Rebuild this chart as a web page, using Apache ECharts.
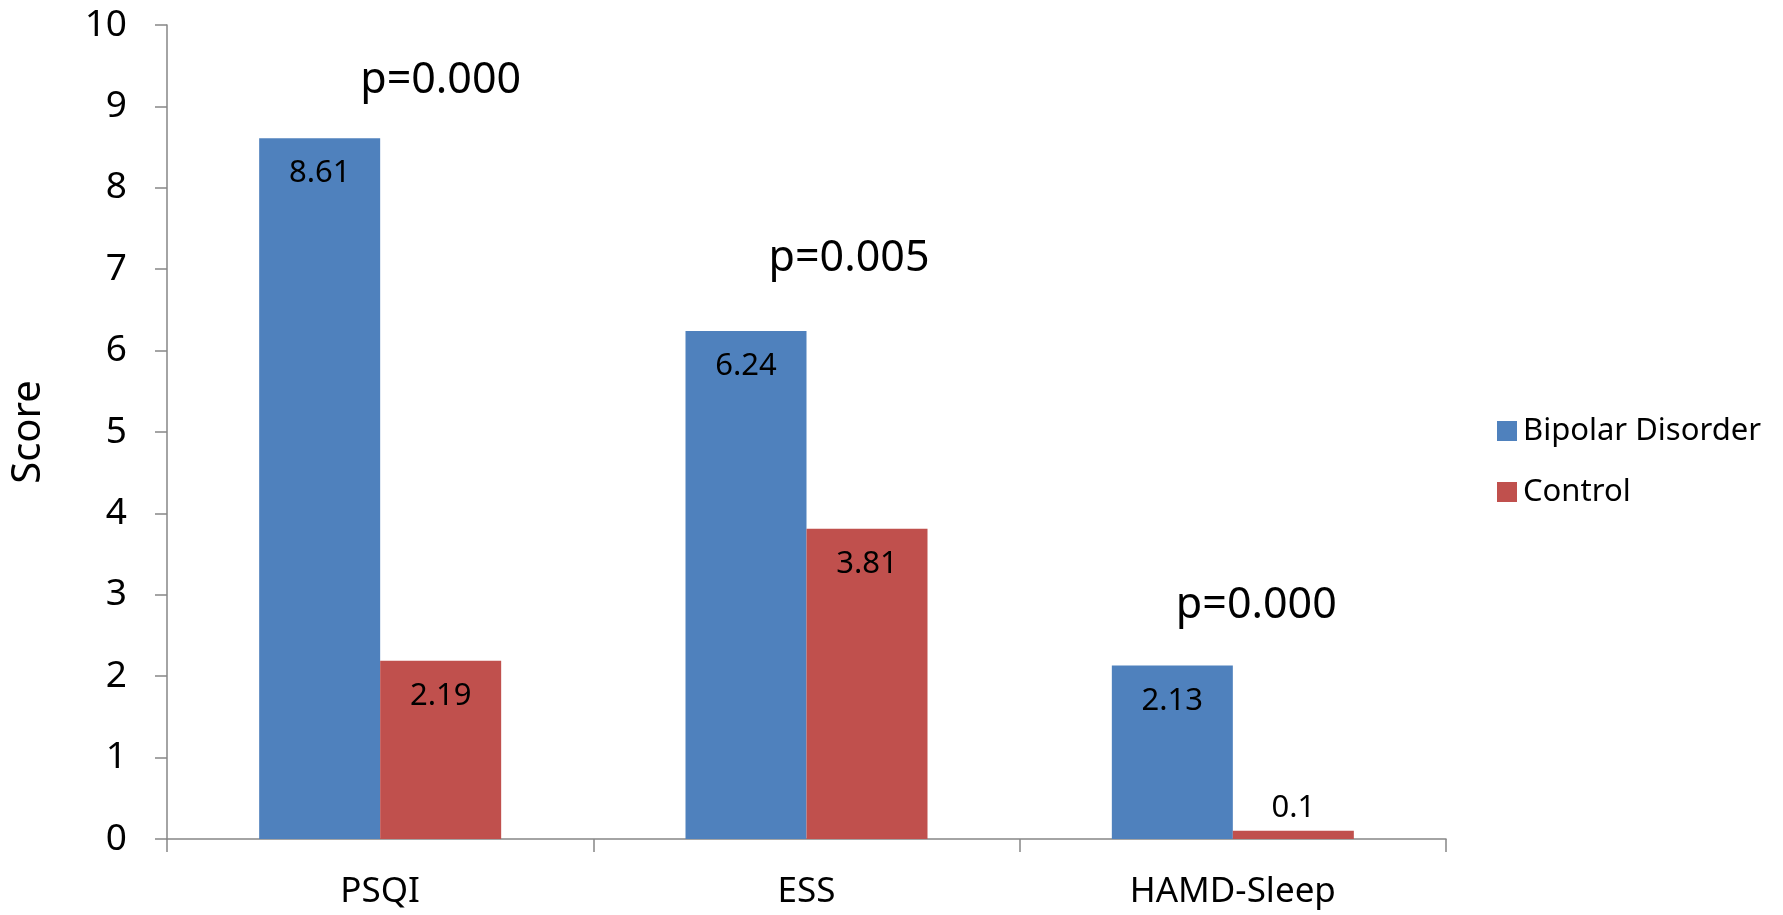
<!DOCTYPE html>
<html>
<head>
<meta charset="utf-8">
<script src="https://cdn.jsdelivr.net/npm/echarts@6/dist/echarts.min.js"></script>
<style>
  html, body { margin: 0; padding: 0; background: #ffffff; }
  #chart { width: 1783px; height: 915px; }
</style>
</head>
<body>
<div id="chart"></div>
<script>
// Sleep scores by scale
const categories = ['PSQI', 'ESS', 'HAMD-Sleep'];
const bipolarValues = [8.61, 6.24, 2.13];
const controlValues = [2.19, 3.81, 0.1];
const pValueLabels = ['p=0.000', 'p=0.005', 'p=0.000'];
const yTicks = [0, 1, 2, 3, 4, 5, 6, 7, 8, 9, 10];

// Placement of the p-value annotations, relative to the top of each Bipolar bar
const pLabelOffsets = [[121, -57], [103, -72], [84, -60]];

const FONT = '"Noto Sans", "Open Sans", sans-serif';
const BLUE = '#4F81BD';
const RED = '#C0504D';
const AXIS = '#868686';

const chart = echarts.init(document.getElementById('chart'));

chart.setOption({
  backgroundColor: '#ffffff',
  animation: false,
  textStyle: { fontFamily: FONT, color: '#000000' },
  grid: { left: 167, right: 337, top: 25, bottom: 76 },
  legend: {
    orient: 'vertical',
    left: 1492,
    top: 408,
    itemWidth: 20,
    itemHeight: 20,
    itemGap: 25,
    icon: 'rect',
    textStyle: { fontFamily: FONT, fontSize: 31, color: '#000000', lineHeight: 36, padding: [0, 0, 0, 1] },
    data: ['Bipolar Disorder', 'Control']
  },
  xAxis: {
    type: 'category',
    data: categories,
    boundaryGap: true,
    axisLine: { show: true, lineStyle: { color: AXIS, width: 1.5 } },
    axisTick: { show: true, alignWithLabel: false, length: 13, lineStyle: { color: AXIS, width: 1.5 } },
    axisLabel: { fontFamily: FONT, fontSize: 35, color: '#000000', margin: 36 },
    splitLine: { show: false }
  },
  yAxis: {
    type: 'value',
    min: yTicks[0],
    max: yTicks[yTicks.length - 1],
    interval: 1,
    name: 'Score',
    nameLocation: 'middle',
    nameGap: 118,
    nameTextStyle: { fontFamily: FONT, fontSize: 40, color: '#000000' },
    axisLine: { show: true, lineStyle: { color: AXIS, width: 1.5 } },
    axisTick: { show: true, length: 12, lineStyle: { color: AXIS, width: 1.5 } },
    axisLabel: { fontFamily: FONT, fontSize: 37, color: '#000000', margin: 40 },
    splitLine: { show: false }
  },
  series: [
    {
      name: 'Bipolar Disorder',
      type: 'bar',
      barWidth: 121,
      barGap: '0%',
      itemStyle: { color: BLUE },
      label: {
        show: true,
        position: 'insideTop',
        distance: 20,
        fontFamily: FONT,
        fontSize: 31,
        color: '#000000'
      },
      data: bipolarValues,
      markPoint: {
        symbol: 'circle',
        symbolSize: 0,
        silent: true,
        label: {
          show: true,
          position: 'inside',
          fontFamily: FONT,
          fontSize: 43,
          color: '#000000'
        },
        data: categories.map((c, i) => ({
          coord: [i, bipolarValues[i]],
          value: pValueLabels[i],
          label: { formatter: pValueLabels[i], offset: pLabelOffsets[i] }
        }))
      }
    },
    {
      name: 'Control',
      type: 'bar',
      barWidth: 121,
      barGap: '0%',
      itemStyle: { color: RED },
      label: {
        show: true,
        position: 'insideTop',
        distance: 20,
        fontFamily: FONT,
        fontSize: 31,
        color: '#000000'
      },
      data: controlValues.map(v => v < 0.5
        ? { value: v, label: { position: 'top', distance: 7 } }
        : v)
    }
  ]
});
</script>
</body>
</html>
